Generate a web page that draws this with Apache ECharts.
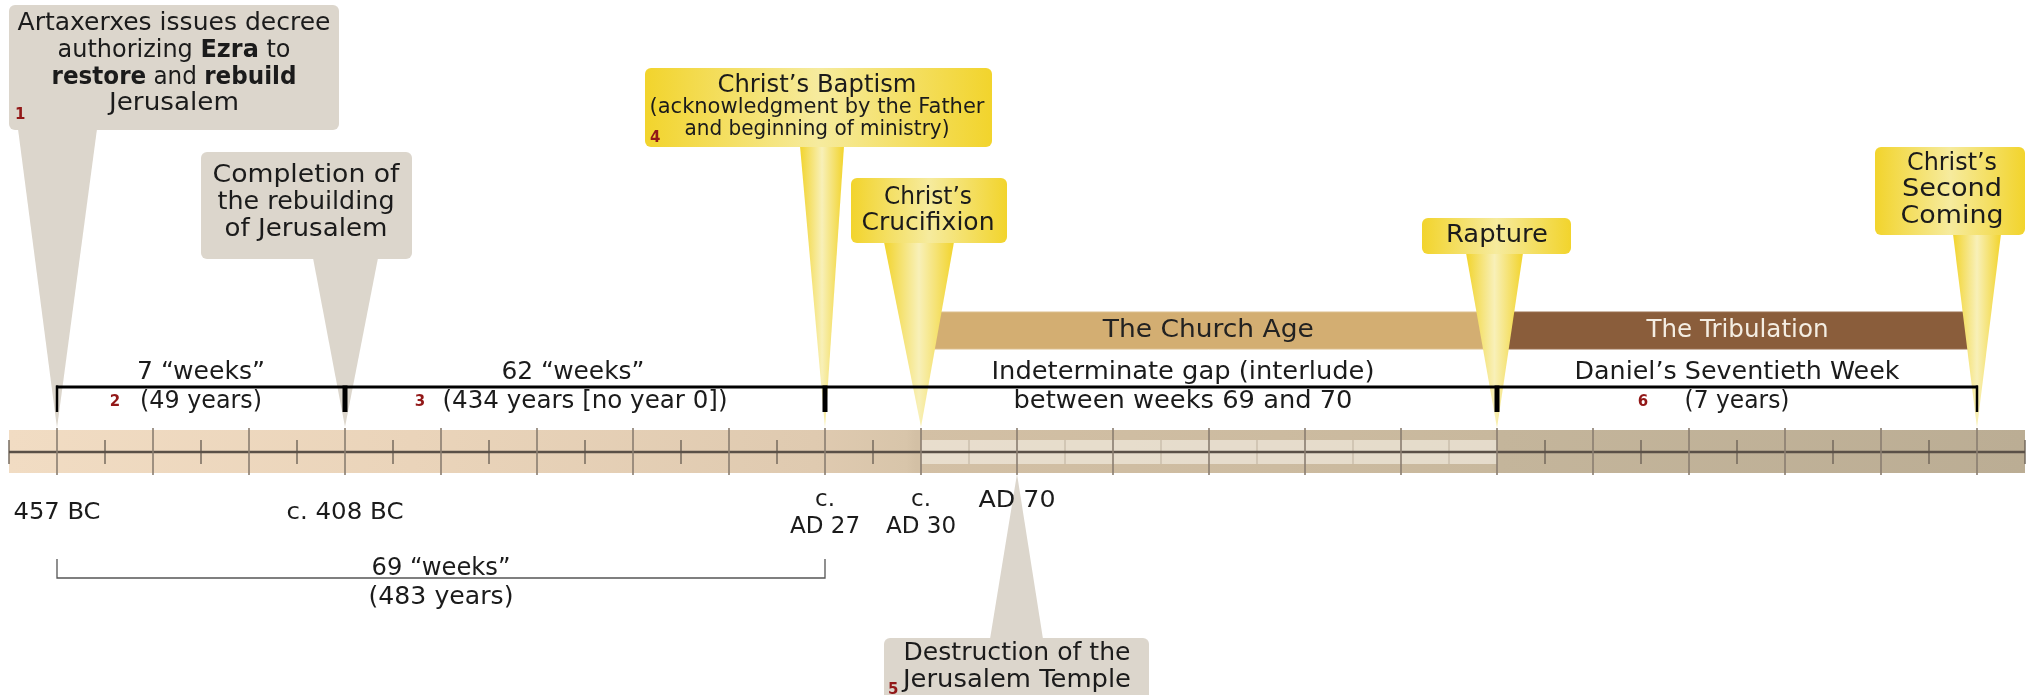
<!DOCTYPE html>
<html><head><meta charset="utf-8">
<script src="https://cdn.jsdelivr.net/npm/echarts@6/dist/echarts.min.js"></script>
<style>html,body{margin:0;padding:0;background:#fff}#c{width:2028px;height:695px}</style>
</head><body><div id="c"></div>
<script>
// ================= DATA =================
// Timeline positions are in schematic "units" (457 BC = 0); one major tick = 1 unit.
const majorTickUnits = [0,1,2,3,4,5,6,7,8,9,10,11,12,13,14,15,16,17,18,19,20];
const minorTickUnits = [-0.5,0.5,1.5,2.5,3.5,4.5,5.5,6.5,7.5,8.5,9.5,10.5,11.5,12.5,13.5,14.5,15.5,16.5,17.5,18.5,19.5,20.5];
const timelineFrom = -0.5, timelineTo = 20.5;
const gapFrom = 9, gapTo = 15;

const dateLabels = ['457 BC', 'c. 408 BC', 'c.\nAD 27', 'c.\nAD 30', 'AD 70'];
const dateUnits  = [0, 3, 8, 9, 10];

const eventTexts = [
  'Artaxerxes issues decree\nauthorizing {b|Ezra} to\n{b|restore} and {b|rebuild}\nJerusalem',
  'Completion of\nthe rebuilding\nof Jerusalem',
  'Christ’s Baptism\n(acknowledgment by the Father\nand beginning of ministry)',
  'Christ’s\nCrucifixion',
  'Destruction of the\nJerusalem Temple',
  'Rapture',
  'Christ’s\nSecond\nComing'
];
const eventUnits   = [0, 3, 8, 9, 10, 15, 20];
const eventNumbers = ['1', '', '4', '', '5', '', ''];
const eventKinds   = ['grey', 'grey', 'gold', 'gold', 'grey', 'gold', 'gold'];

const periodNames = ['The Church Age', 'The Tribulation'];
const periodFrom  = [9, 15];
const periodTo    = [15, 20];

const spanTopText    = ['7 “weeks”', '62 “weeks”', 'Indeterminate gap (interlude)', 'Daniel’s Seventieth Week'];
const spanBottomText = ['(49 years)', '(434 years [no year 0])', 'between weeks 69 and 70', '(7 years)'];
const spanFrom    = [0, 3, 8, 15];
const spanTo      = [3, 8, 15, 20];
const spanNumbers = ['2', '3', '', '6'];
const spanEndUnits = [0, 3, 8, 15, 20];

const totalSpanText = ['69 “weeks”', '(483 years)'];
const totalSpanFrom = 0, totalSpanTo = 8;

// ================= LAYOUT / STYLE =================
const W = 2028, H = 695;
const ORIGIN_PX = 57, UNIT_PX = 96;
const FONT = "'DejaVu Sans', sans-serif";
const INK = '#1b1b1b';
const RED = '#921818';
const GREY = '#dcd6cc';
const L = {
  barTop: 430, barBottom: 473, barMid: 452,
  gapTop: 440, gapBottom: 464,
  majorTop: 428, majorBottom: 475,
  minorTop: 440, minorBottom: 464,
  periodTop: 312, periodBottom: 349,
  bracketY: 387, bracketEnd: 412, spanTopY: 373, spanBottomY: 402,
  totalLineY: 578, totalEndY: 559, totalTopY: 569, totalBottomY: 598
};
const dateY = [513, 513, 514, 514, 501];
const dateW = [87, 117, 0, 0, 77];
const spanTextDx = [0, 0, 22, 0];
const spanTopDx = [0, -12, 0, 0];
const spanNumDx = [-86, -165, 0, -94];
const spanTopW = [128, 143, 383, 325];
const spanBottomW = [122, 285, 339, 105];
const totalW = [139, 145];
const periodW = [211, 182];
const spanEndWidth = [2.5, 5, 5, 5, 2.5];
const calloutLayout = [
  {box:[9,5,339,130],     cx:174,  lineY:[23,50,77,103], size:25, w:[313,233,245,130], base:[18,97],     tipY:428, num:[15,115]},
  {box:[201,152,412,259], cx:306,  lineY:[175,202,229],  size:25, w:[187,177,163],     base:[313,378],   tipY:427},
  {box:[645,68,992,147],  cx:817,  lineY:[85,108,130],   size:[25,21,21], w:[199,335,265], base:[800,844], tipY:428, num:[650,138]},
  {box:[851,178,1007,243],cx:928,  lineY:[197,223],      size:25, w:[88,133],          base:[884,954],   tipY:427},
  {box:[884,638,1149,705],cx:1017, lineY:[653,680],      size:25, w:[227,228],         base:[990,1043],  tipY:474, num:[888,690]},
  {box:[1422,218,1571,254],cx:1497,lineY:[235],          size:25, w:[102],             base:[1466,1523], tipY:428},
  {box:[1875,147,2025,235],cx:1952,lineY:[163,189,216],  size:25, w:[90,100,103],      base:[1953,2001], tipY:428}
];

const barGrad = {type:'linear', x:0, y:0, x2:1, y2:0, colorStops:[
  {offset:0, color:'#f1dcc3'}, {offset:0.2, color:'#ead4ba'}, {offset:0.4, color:'#dfcab0'},
  {offset:0.445, color:'#d8c5aa'}, {offset:0.45, color:'#d3c0a5'}, {offset:0.735, color:'#c8b89d'},
  {offset:0.74, color:'#c4b59b'}, {offset:1, color:'#bbad94'}]};
const goldBox = {type:'linear', x:0, y:0, x2:1, y2:0, colorStops:[
  {offset:0, color:'#f2d42c'}, {offset:0.5, color:'#f6eb9e'}, {offset:1, color:'#f2d42c'}]};
const goldPtr = {type:'linear', x:0, y:0, x2:1, y2:0, colorStops:[
  {offset:0, color:'#f2d42c'}, {offset:0.5, color:'#f8f0b8'}, {offset:1, color:'#f2d42c'}]};

// text measuring so that the substitute font can be stretched to the original widths
const mctx = document.createElement('canvas').getContext('2d');
function measure(text, size, weight) {
  let w = 0;
  text.replace(/\{b\|([^}]*)\}|([^{]+)/g, function(m, bold, plain){
    if (bold !== undefined) { mctx.font = 'bold ' + size + 'px ' + FONT; w += mctx.measureText(bold).width; }
    else if (plain !== undefined) { mctx.font = (weight || 'normal') + ' ' + size + 'px ' + FONT; w += mctx.measureText(plain).width; }
    return m;
  });
  return w;
}
function txt(x, y, text, size, opts) {
  opts = opts || {};
  let sx = 1;
  if (opts.width) sx = opts.width / measure(text, size, opts.weight);
  return {type:'text', x:x, y:y, scaleX:sx, style:{
    text:text, fill:opts.fill || INK, fontSize:size, fontFamily:FONT,
    fontWeight:opts.weight || 'normal', align:opts.align || 'center', verticalAlign:'middle',
    lineHeight:opts.lineHeight || size * 1.1,
    rich:{b:{fontWeight:'bold', fontSize:size, fontFamily:FONT, fill:opts.fill || INK}}
  }};
}

const chart = echarts.init(document.getElementById('c'), null, {renderer:'canvas'});
const base = {type:'custom', clip:false, silent:true, animation:false, coordinateSystem:'cartesian2d'};

chart.setOption({
  animation:false,
  grid:{left:0, right:0, top:0, bottom:0},
  xAxis:{type:'value', min:-ORIGIN_PX/UNIT_PX, max:(W-ORIGIN_PX)/UNIT_PX, show:false},
  yAxis:{type:'value', min:0, max:H, inverse:true, show:false},
  series:[
    Object.assign({}, base, {name:'timeline', z:1, data:[[timelineFrom, timelineTo]],
      renderItem:function(p, api){
        const a = api.coord([api.value(0), L.barTop]), b = api.coord([api.value(1), L.barBottom]);
        return {type:'rect', shape:{x:a[0], y:a[1], width:b[0]-a[0], height:b[1]-a[1]}, style:{fill:barGrad}};
      }}),
    Object.assign({}, base, {name:'gap', z:2, data:[[gapFrom, gapTo]],
      renderItem:function(p, api){
        const a = api.coord([api.value(0), L.gapTop]), b = api.coord([api.value(1), L.gapBottom]);
        return {type:'rect', shape:{x:a[0], y:a[1], width:b[0]-a[0], height:b[1]-a[1]}, style:{fill:'rgba(240,233,220,0.72)'}};
      }}),
    Object.assign({}, base, {name:'minor', z:3, data:minorTickUnits.map(function(u){return [u];}),
      renderItem:function(p, api){
        const u = api.value(0);
        const inGap = u > gapFrom && u < gapTo;
        const a = api.coord([u, L.minorTop]), b = api.coord([u, L.minorBottom]);
        return {type:'line', shape:{x1:a[0], y1:a[1], x2:b[0], y2:b[1]},
          style:{stroke: inGap ? '#bdb09d' : '#6e6358', lineWidth: inGap ? 1 : 1.4}};
      }}),
    Object.assign({}, base, {name:'axisline', z:4, data:[[timelineFrom, timelineTo]],
      renderItem:function(p, api){
        const a = api.coord([api.value(0), L.barMid]), b = api.coord([api.value(1), L.barMid]);
        return {type:'line', shape:{x1:a[0], y1:a[1], x2:b[0], y2:b[1]}, style:{stroke:'#5a5047', lineWidth:2.5}};
      }}),
    Object.assign({}, base, {name:'major', z:5, data:majorTickUnits.map(function(u){return [u];}),
      renderItem:function(p, api){
        const a = api.coord([api.value(0), L.majorTop]), b = api.coord([api.value(0), L.majorBottom]);
        return {type:'line', shape:{x1:a[0], y1:a[1], x2:b[0], y2:b[1]}, style:{stroke:'#8a7d70', lineWidth:1.6}};
      }}),
    Object.assign({}, base, {name:'periods', z:6, data:periodFrom.map(function(f,i){return [f, periodTo[i], i];}),
      renderItem:function(p, api){
        const i = api.value(2);
        const a = api.coord([api.value(0), L.periodTop]), b = api.coord([api.value(1), L.periodBottom]);
        const x0 = a[0] + (i === 0 ? 1 : 1.5), x1 = b[0] - (i === 0 ? 2.5 : 0.5);
        return {type:'group', children:[
          {type:'rect', shape:{x:x0, y:a[1], width:x1-x0, height:b[1]-a[1], r:2},
            style:{fill: i === 0 ? '#d3ae72' : '#8a5d3b', stroke: i === 0 ? '#dcbf8e' : '#9a7050', lineWidth:1}},
          txt((x0+x1)/2, (a[1]+b[1])/2, periodNames[i], 25, {fill: i === 0 ? '#222' : '#f4ede2', width:periodW[i]})
        ]};
      }}),
    Object.assign({}, base, {name:'callouts', z:7, data:eventUnits.map(function(u,i){return [u, i];}),
      renderItem:function(p, api){
        const i = api.value(1);
        const lay = calloutLayout[i];
        const tip = api.coord([api.value(0), lay.tipY]);
        const x0 = lay.box[0], y0 = lay.box[1], x1 = lay.box[2], y1 = lay.box[3];
        const baseY = lay.tipY < y0 ? y0 + 1 : y1 - 1;
        const gold = eventKinds[i] === 'gold';
        const ch = [
          {type:'polygon', shape:{points:[[lay.base[0], baseY], [lay.base[1], baseY], [tip[0], tip[1]]]},
            style:{fill: gold ? goldPtr : GREY}},
          {type:'rect', shape:{x:x0, y:y0, width:x1-x0, height:y1-y0, r:6}, style:{fill: gold ? goldBox : GREY}}
        ];
        eventTexts[i].split('\n').forEach(function(line, k){
          const sz = Array.isArray(lay.size) ? lay.size[k] : lay.size;
          ch.push(txt(lay.cx, lay.lineY[k], line, sz, {width:lay.w[k]}));
        });
        if (eventNumbers[i]) ch.push(txt(lay.num[0], lay.num[1], eventNumbers[i], 15, {fill:RED, weight:'bold', align:'left'}));
        return {type:'group', children:ch};
      }}),
    Object.assign({}, base, {name:'brackets', z:8, data:[[spanEndUnits[0], spanEndUnits[spanEndUnits.length-1]]],
      renderItem:function(p, api){
        const a = api.coord([api.value(0), L.bracketY]), b = api.coord([api.value(1), L.bracketY]);
        const ch = [{type:'line', shape:{x1:a[0]-1, y1:a[1], x2:b[0]+1, y2:b[1]}, style:{stroke:'#000', lineWidth:3}}];
        spanEndUnits.forEach(function(u, k){
          const t = api.coord([u, L.bracketY]), e = api.coord([u, L.bracketEnd]);
          ch.push({type:'line', shape:{x1:t[0], y1:t[1]-1.5, x2:e[0], y2:e[1]}, style:{stroke:'#000', lineWidth:spanEndWidth[k]}});
        });
        return {type:'group', children:ch};
      }}),
    Object.assign({}, base, {name:'spans', z:9, data:spanFrom.map(function(f,i){return [f, spanTo[i], i];}),
      renderItem:function(p, api){
        const i = api.value(2);
        const a = api.coord([api.value(0), L.spanTopY]), b = api.coord([api.value(1), L.spanBottomY]);
        const cx = (a[0] + b[0]) / 2 + spanTextDx[i];
        const ch = [
          txt(cx + spanTopDx[i], L.spanTopY, spanTopText[i], 24, {width:spanTopW[i]}),
          txt(cx, L.spanBottomY, spanBottomText[i], 24, {width:spanBottomW[i]})
        ];
        if (spanNumbers[i]) ch.push(txt(cx + spanNumDx[i], L.spanBottomY, spanNumbers[i], 15, {fill:RED, weight:'bold'}));
        return {type:'group', children:ch};
      }}),
    Object.assign({}, base, {name:'total', z:9, data:[[totalSpanFrom, totalSpanTo]],
      renderItem:function(p, api){
        const a = api.coord([api.value(0), L.totalLineY]), b = api.coord([api.value(1), L.totalLineY]);
        const cx = (a[0] + b[0]) / 2;
        const st = {stroke:'#555', lineWidth:1.3};
        return {type:'group', children:[
          {type:'polyline', shape:{points:[[a[0], L.totalEndY], [a[0], a[1]], [b[0], b[1]], [b[0], L.totalEndY]]}, style:Object.assign({fill:null}, st)},
          txt(cx, L.totalTopY, totalSpanText[0], 24, {width:totalW[0]}),
          txt(cx, L.totalBottomY, totalSpanText[1], 24, {width:totalW[1]})
        ]};
      }}),
    Object.assign({}, base, {name:'dates', z:10, data:dateUnits.map(function(u,i){return [u, i];}),
      renderItem:function(p, api){
        const i = api.value(1);
        const c = api.coord([api.value(0), dateY[i]]);
        return txt(c[0], c[1], dateLabels[i], 23, {lineHeight:27, width:dateW[i] || 0});
      }})
  ]
});
</script>
</body></html>
